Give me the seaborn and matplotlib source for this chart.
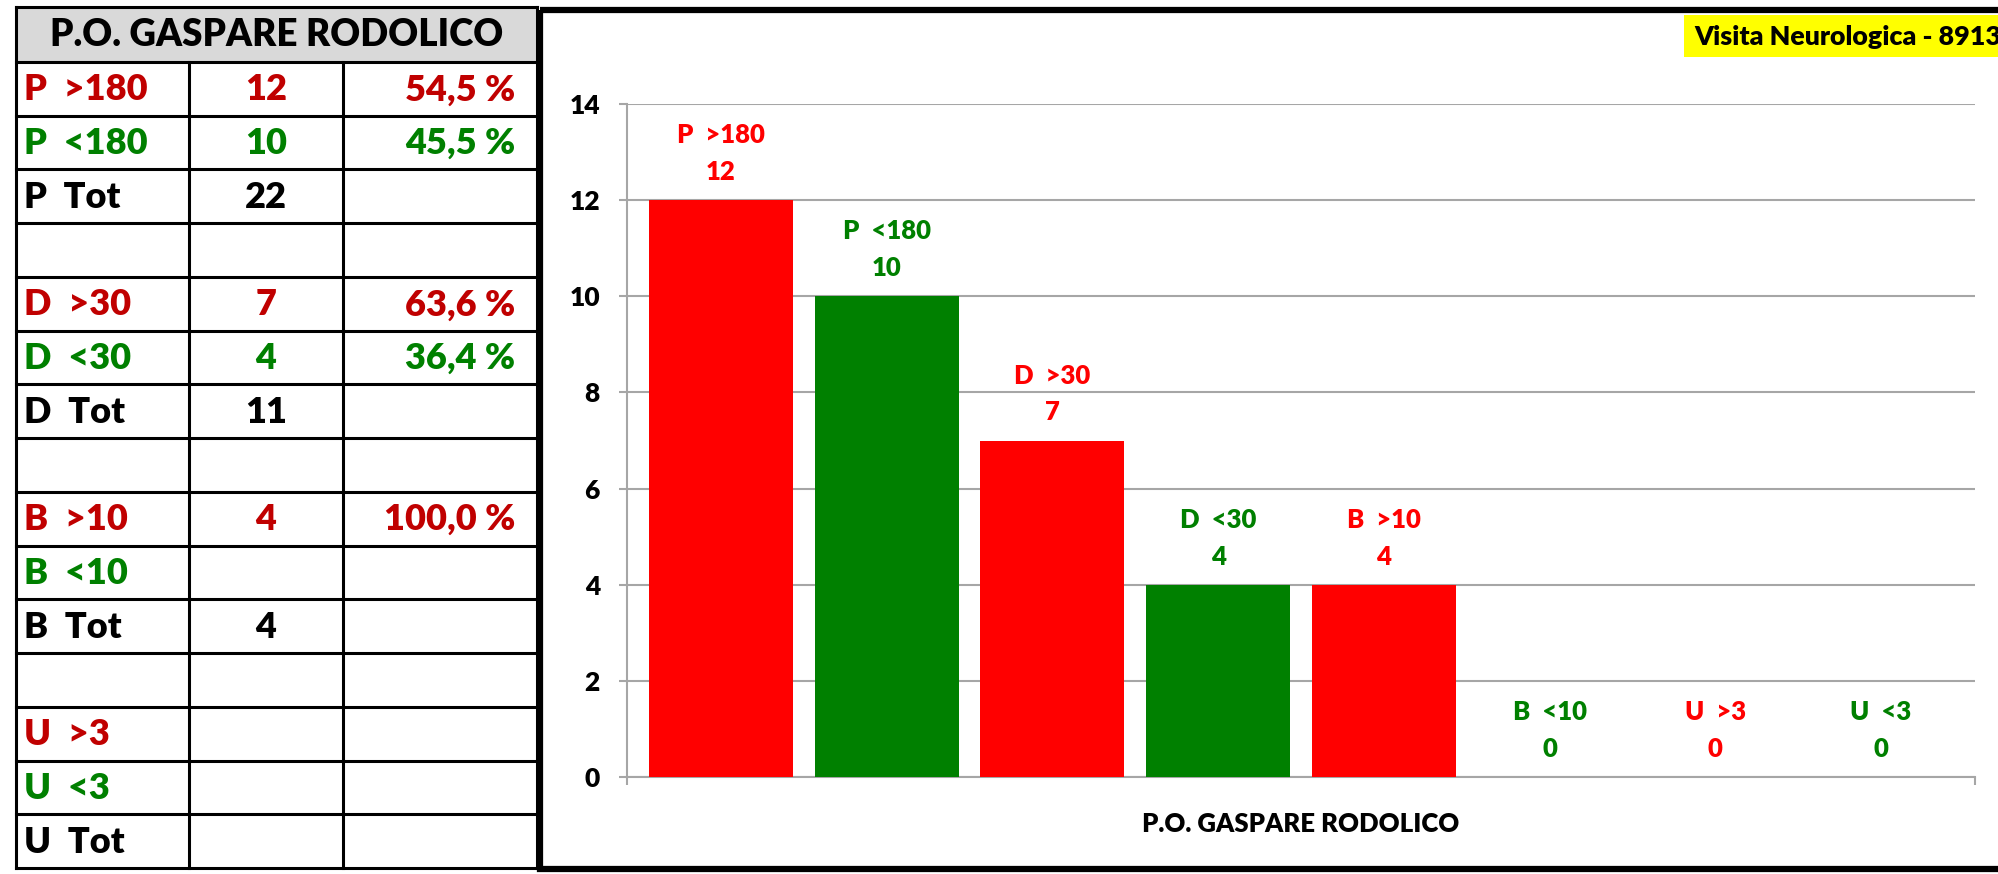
import matplotlib
matplotlib.use("Agg")
import matplotlib.pyplot as plt
from matplotlib.patches import Rectangle
import seaborn as sns
import pandas as pd

# --- chart data ---
site = "P.O. GASPARE RODOLICO"
badge = "Visita Neurologica - 8913"
categories = ["P  >180", "P  <180", "D  >30", "D  <30", "B  >10", "B  <10", "U  >3", "U  <3"]
counts = [12, 10, 7, 4, 4, 0, 0, 0]
y_ticks = [0, 2, 4, 6, 8, 10, 12, 14]

# --- table data (left panel) ---
table_labels = ["P  >180", "P  <180", "P  Tot", "",
                "D  >30", "D  <30", "D  Tot", "",
                "B  >10", "B  <10", "B  Tot", "",
                "U  >3", "U  <3", "U  Tot"]
table_counts = ["12", "10", "22", "", "7", "4", "11", "", "4", "", "4", "", "", "", ""]
table_pcts = ["54,5 %", "45,5 %", "", "", "63,6 %", "36,4 %", "", "",
              "100,0 %", "", "", "", "", "", ""]

RED, GREEN = "#FF0000", "#008000"
TAB_RED, TAB_GREEN = "#C00000", "#008000"
GRID = "#A6A6A6"
FONT = "Lato"
WEIGHT = "heavy"


def kind_color(label, red, green):
    if ">" in label:
        return red
    if "<" in label:
        return green
    return "black"


W, H = 1998, 874
fig = plt.figure(figsize=(W / 100, H / 100), dpi=100)

# overlay in pixel coordinates for the table and frames
ov = fig.add_axes([0, 0, 1, 1])
ov.set_xlim(0, W)
ov.set_ylim(H, 0)
ov.axis("off")

# table
tx0, tx1 = 16, 537
cols = [16, 189, 343, 537]
head_top, head_bot, tab_bot = 7, 62, 868
row_h = (tab_bot - head_bot) / len(table_labels)
ov.add_patch(Rectangle((tx0, head_top), tx1 - tx0, head_bot - head_top,
                       facecolor="#D9D9D9", edgecolor="none"))
ov.text((tx0 + tx1) / 2, (head_top + head_bot) / 2 + 1, site, ha="center", va="center",
        fontsize=26.5, fontweight=WEIGHT, family=FONT, color="black")
lw = 2.2
ov.plot([tx0, tx1], [head_top, head_top], color="black", lw=lw)
for k in range(len(table_labels) + 1):
    yy = head_bot + k * row_h
    ov.plot([tx0, tx1], [yy, yy], color="black", lw=lw)
for c in cols:
    top = head_top if c in (tx0, tx1) else head_bot
    ov.plot([c, c], [top, tab_bot], color="black", lw=lw)
for i, (lab, cnt, pct) in enumerate(zip(table_labels, table_counts, table_pcts)):
    col = kind_color(lab, TAB_RED, TAB_GREEN)
    yc = head_bot + (i + 0.5) * row_h + 1
    kw = dict(va="center", fontsize=26, fontweight=WEIGHT, family=FONT, color=col)
    ov.text(cols[0] + 8, yc, lab, ha="left", **kw)
    ov.text((cols[1] + cols[2]) / 2, yc, cnt, ha="center", **kw)
    ov.text(cols[3] - 22, yc, pct, ha="right", **kw)

# chart frame and badge
ov.add_patch(Rectangle((540, 10), 1500, 859, facecolor="none", edgecolor="black", lw=4.5))
ov.add_patch(Rectangle((1684, 15), 400, 42, facecolor="#FFFF00", edgecolor="none"))
ov.text(1694, 37, badge, ha="left", va="center", fontsize=19.3, fontweight=WEIGHT,
        family=FONT, color="black")

# bar chart
ax = fig.add_axes([627 / W, 97 / H, 1348 / W, 673 / H])
ax.set_facecolor("none")
df = pd.DataFrame({"cat": categories, "n": counts})
palette = {c: kind_color(c, RED, GREEN) for c in categories}
sns.barplot(data=df, x="cat", y="n", hue="cat", palette=palette, width=0.869,
            legend=False, saturation=1, ax=ax, zorder=3)

for i, (cat, n) in enumerate(zip(categories, counts)):
    col = palette[cat]
    ax.annotate(str(n), xy=(i, n), xytext=(0, 20.2), textcoords="offset points",
                ha="center", va="center", fontsize=18.5, fontweight=WEIGHT,
                family=FONT, color=col)
    ax.annotate(cat, xy=(i, n), xytext=(0, 46.8), textcoords="offset points",
                ha="center", va="center", fontsize=18.5, fontweight=WEIGHT,
                family=FONT, color=col)

xmin, xmax = -0.567, len(categories) - 1 + 0.567
ax.set_xlim(xmin, xmax)
ax.set_ylim(0, 14)
ax.set_yticks(y_ticks)
ax.set_yticklabels([str(t) for t in y_ticks], fontsize=19, fontweight=WEIGHT, family=FONT)
ax.set_xticks([xmin, xmax])
ax.set_xticklabels(["", ""])
ax.tick_params(axis="y", length=6, width=1.5, color=GRID, pad=13.5)
ax.tick_params(axis="x", length=6, width=1.5, color=GRID, direction="out")
ax.yaxis.grid(True, color=GRID, lw=1.5, zorder=0)
ax.set_axisbelow(True)
for s in ("top", "right"):
    ax.spines[s].set_visible(False)
for s in ("left", "bottom"):
    ax.spines[s].set_color(GRID)
    ax.spines[s].set_linewidth(1.5)
ax.set_ylabel("")
ax.set_xlabel(site, fontsize=18.5, fontweight=WEIGHT, family=FONT)
ax.xaxis.set_label_coords(0.5, -47 / 673)
ax.xaxis.label.set_va("center")

fig.savefig("out.png", dpi=100)
